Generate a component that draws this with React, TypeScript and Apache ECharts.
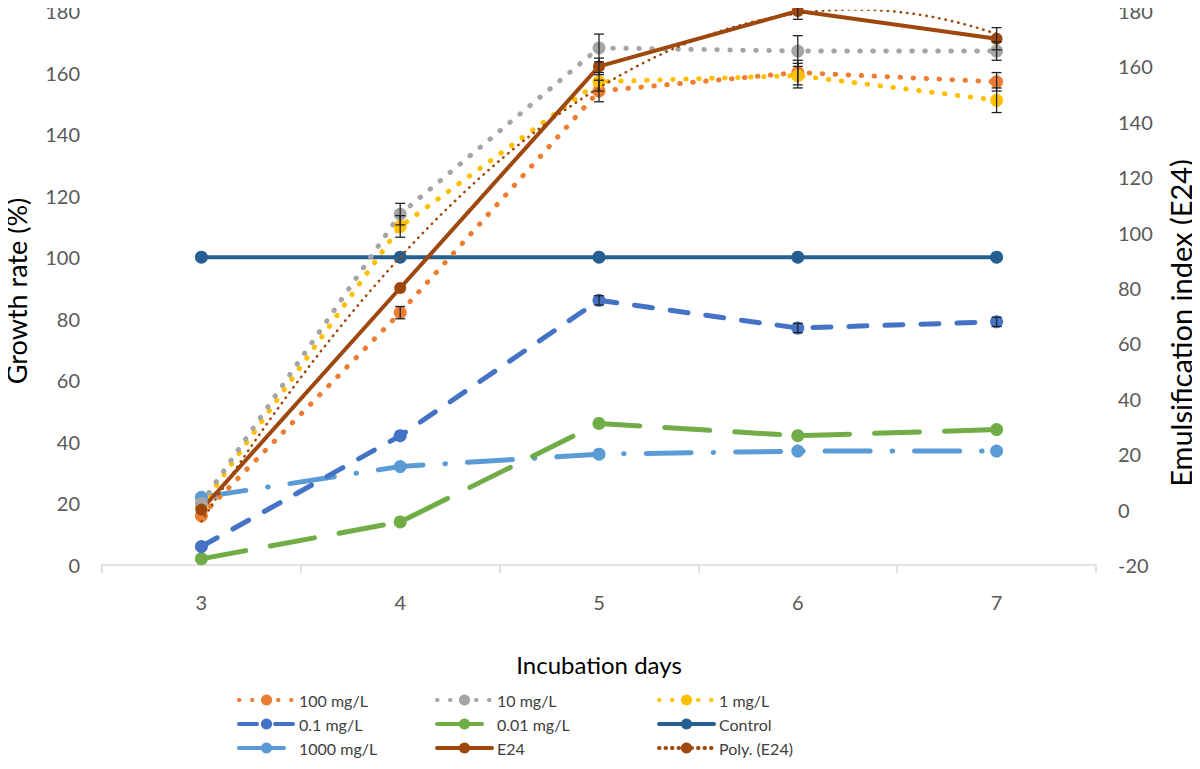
import React, { useEffect, useRef } from "react";
import * as echarts from "echarts";

const days = ["3", "4", "5", "6", "7"];
const dayNums = [3, 4, 5, 6, 7];
const leftTicks = [0, 180, 20];
const rightTicks = [-20, 180, 20];

const s100 = [16, 82, 154, 160, 157];
const s10 = [20, 114, 168, 167, 167];
const s1 = [19, 110, 157, 159, 151];
const s01 = [6, 42, 86, 77, 79];
const s001 = [2, 14, 46, 42, 44];
const sControl = [100, 100, 100, 100, 100];
const s1000 = [22, 32, 36, 37, 37];
const sE24 = [0, 80, 160, 180, 170];

const err100 = [0, 2, 3.5, 4, 3];
const err10 = [0, 3.5, 4.5, 5, 3];
const err1 = [0, 3.5, 3, 4, 4];
const err01 = [0, 0, 1.5, 1.5, 1.5];
const errE24 = [0, 0, 3, 3, 4];

// least-squares quadratic trendline (like Excel "Poly." order 2) from E24 data
function quadFit(xs: number[], ys: number[]) {
  const n = xs.length;
  let sx = 0, sx2 = 0, sx3 = 0, sx4 = 0, sy = 0, sxy = 0, sx2y = 0;
  for (let i = 0; i < n; i++) {
    const x = xs[i], y = ys[i];
    sx += x; sx2 += x * x; sx3 += x ** 3; sx4 += x ** 4;
    sy += y; sxy += x * y; sx2y += x * x * y;
  }
  const M = [
    [n, sx, sx2, sy],
    [sx, sx2, sx3, sxy],
    [sx2, sx3, sx4, sx2y],
  ];
  for (let i = 0; i < 3; i++) {
    for (let k = i + 1; k < 3; k++) {
      const f = M[k][i] / M[i][i];
      for (let j = i; j < 4; j++) M[k][j] -= f * M[i][j];
    }
  }
  const c = [0, 0, 0];
  for (let i = 2; i >= 0; i--) {
    let s = M[i][3];
    for (let j = i + 1; j < 3; j++) s -= M[i][j] * c[j];
    c[i] = s / M[i][i];
  }
  return (x: number) => c[0] + c[1] * x + c[2] * x * x;
}

const FONT = "Lato";

export default function App() {
  const ref = useRef<HTMLDivElement>(null);
  useEffect(() => {
    if (!ref.current) return;
    const chart = echarts.init(ref.current, undefined, { renderer: "svg" });
    const fit = quadFit(dayNums, sE24);
    const polyData: number[][] = [];
    for (let x = dayNums[0]; x <= dayNums[dayNums.length - 1] + 1e-9; x += 0.05) {
      polyData.push([x, fit(x)]);
    }

    const lineSeries = (
      name: string,
      data: number[],
      color: string,
      dash: any,
      width: number,
      yAxisIndex = 0,
      symbolSize = 13
    ) => ({
      name,
      type: "line",
      data,
      yAxisIndex,
      symbol: "circle",
      symbolSize,
      itemStyle: { color },
      lineStyle: { color, width, type: dash, cap: "round" },
      z: 2,
    });

    const errSeries = (vals: number[], errs: number[], yAxisIndex = 0) => ({
      type: "custom",
      yAxisIndex,
      silent: true,
      z: 5,
      data: vals.map((v, i) => [i, v - errs[i], v + errs[i]]),
      renderItem: (params: any, api: any) => {
        const i = api.value(0);
        const lo = api.coord([i, api.value(1)]);
        const hi = api.coord([i, api.value(2)]);
        if (Math.abs(hi[1] - lo[1]) < 1) return { type: "group", children: [] };
        const hw = 5;
        const st = { stroke: "#222", lineWidth: 1.3 };
        return {
          type: "group",
          children: [
            { type: "line", shape: { x1: lo[0], y1: lo[1], x2: hi[0], y2: hi[1] }, style: st },
            { type: "line", shape: { x1: lo[0] - hw, y1: lo[1], x2: lo[0] + hw, y2: lo[1] }, style: st },
            { type: "line", shape: { x1: hi[0] - hw, y1: hi[1], x2: hi[0] + hw, y2: hi[1] }, style: st },
          ],
        };
      },
    });

    const dots = [0.5, 12.5];
    const legendBase = {
      orient: "vertical",
      top: 687,
      itemWidth: 55,
      itemHeight: 14,
      itemGap: 8,
      lineStyle: { width: 4 },
      textStyle: { fontFamily: FONT, fontSize: 16, color: "#404040" },
    };

    chart.setOption({
      animation: false,
      backgroundColor: "#fff",
      grid: { left: 102, right: 104, top: 11, bottom: 204 },
      graphic: [
        {
          type: "text",
          x: 16,
          y: 291,
          rotation: Math.PI / 2,
          style: {
            text: "Growth rate (%)",
            fill: "#000",
            font: `27px ${FONT}`,
            align: "center",
            verticalAlign: "middle",
          },
        },
        {
          type: "text",
          x: 1180,
          y: 323,
          rotation: Math.PI / 2,
          style: {
            text: "Emulsification index (E24)",
            fill: "#000",
            font: `29px ${FONT}`,
            align: "center",
            verticalAlign: "middle",
          },
        },
      ],
      legend: [
        { ...legendBase, left: 232, data: ["100 mg/L", "0.1 mg/L", "1000 mg/L"] },
        { ...legendBase, left: 430, data: ["10 mg/L", "0.01 mg/L", "E24"] },
        { ...legendBase, left: 652, data: ["1 mg/L", "Control", "Poly. (E24)"] },
      ],
      xAxis: [
        {
          type: "category",
          data: days,
          boundaryGap: true,
          axisLine: { lineStyle: { color: "#d9d9d9", width: 1.5 } },
          axisTick: { show: true, length: 8, lineStyle: { color: "#d9d9d9", width: 1.5 } },
          axisLabel: { color: "#595959", fontFamily: FONT, fontSize: 20, margin: 27 },
          name: "Incubation days",
          nameLocation: "middle",
          nameGap: 87,
          nameTextStyle: { color: "#000", fontFamily: FONT, fontSize: 24 },
          splitLine: { show: false },
        },
        {
          type: "value",
          min: 2.5,
          max: 7.5,
          show: false,
        },
      ],
      yAxis: [
        {
          type: "value",
          min: leftTicks[0],
          max: leftTicks[1],
          interval: leftTicks[2],
          axisLine: { show: false },
          axisTick: { show: false },
          splitLine: { show: false },
          axisLabel: { color: "#595959", fontFamily: FONT, fontSize: 20, margin: 22 },
        },
        {
          type: "value",
          min: rightTicks[0],
          max: rightTicks[1],
          interval: rightTicks[2],
          position: "right",
          axisLine: { show: false },
          axisTick: { show: false },
          splitLine: { show: false },
          axisLabel: { color: "#595959", fontFamily: FONT, fontSize: 20, margin: 22 },
        },
      ],
      series: [
        lineSeries("1000 mg/L", s1000, "#5B9BD5", [45, 22, 0.5, 22], 5),
        lineSeries("0.01 mg/L", s001, "#70AD47", [45, 25], 5),
        lineSeries("0.1 mg/L", s01, "#4472C4", [18, 18], 5),
        lineSeries("Control", sControl, "#255E91", "solid", 4),
        lineSeries("100 mg/L", s100, "#ED7D31", dots, 5),
        lineSeries("1 mg/L", s1, "#FFC000", dots, 5),
        lineSeries("10 mg/L", s10, "#A5A5A5", dots, 5),
        {
          name: "Poly. (E24)",
          type: "line",
          xAxisIndex: 1,
          yAxisIndex: 1,
          data: polyData,
          showSymbol: false,
          symbol: "none",
          itemStyle: { color: "#9E480E" },
          lineStyle: { color: "#9E480E", width: 2.5, type: [0.5, 6], cap: "round" },
          z: 3,
        },
        lineSeries("E24", sE24, "#9E480E", "solid", 4, 1, 12),
        errSeries(s100, err100),
        errSeries(s10, err10),
        errSeries(s1, err1),
        errSeries(s01, err01),
        errSeries(sE24, errE24, 1),
      ],
    });
    return () => chart.dispose();
  }, []);
  return <div ref={ref} style={{ width: 1200, height: 769, margin: -8 }} />;
}
